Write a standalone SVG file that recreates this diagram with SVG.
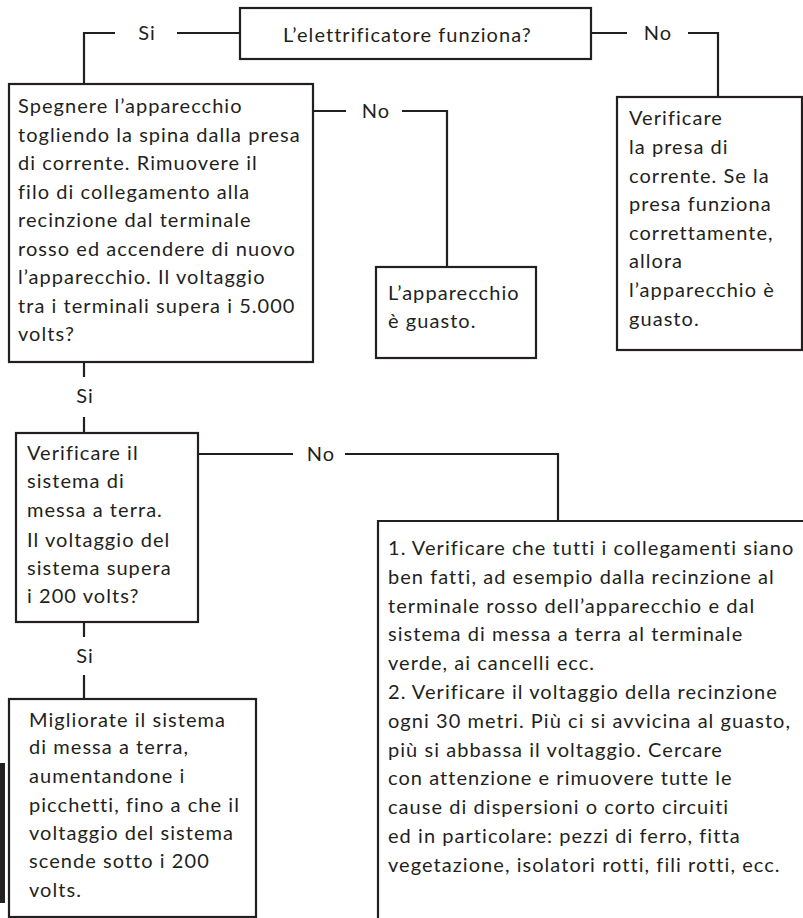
<svg xmlns="http://www.w3.org/2000/svg" width="803" height="918" viewBox="0 0 803 918">
<style>
.box{fill:#fff;stroke:#231f20;stroke-width:2.2}
.ln{fill:none;stroke:#231f20;stroke-width:2.2}
text{font-family:Lato,"Open Sans",sans-serif;font-size:20px;letter-spacing:1.05px;fill:#231f20}
.c{text-anchor:middle}
</style>
<rect width="803" height="918" fill="#fff"/>
<rect x="0" y="763" width="5" height="140" fill="#231f20"/>
<g id="connectors">
<path class="ln" d="M115,33H84V84"/>
<path class="ln" d="M177,33H240"/>
<path class="ln" d="M591,33H627"/>
<path class="ln" d="M688,33H718V97"/>
<path class="ln" d="M313,111H346"/>
<path class="ln" d="M402,111H447V267"/>
<path class="ln" d="M84,362V377"/>
<path class="ln" d="M84,417V433"/>
<path class="ln" d="M198,454H293"/>
<path class="ln" d="M345,454H558V521"/>
<path class="ln" d="M84,622V637"/>
<path class="ln" d="M84,675V699"/>
<text class="c" x="147" y="40">Si</text>
<text class="c" x="658" y="40">No</text>
<text class="c" x="376" y="118">No</text>
<text class="c" x="85" y="403">Si</text>
<text class="c" x="321" y="461">No</text>
<text class="c" x="85" y="663">Si</text>
</g>
<g id="n1">
<rect class="box" x="240" y="8" width="351" height="51"/>
<text x="283" y="42">L’elettrificatore funziona?</text>
</g>
<g id="n2">
<rect class="box" x="9" y="84" width="304" height="278"/>
<text x="18" y="113">Spegnere l’apparecchio</text>
<text x="18" y="141.5">togliendo la spina dalla presa</text>
<text x="18" y="170">di corrente. Rimuovere il</text>
<text x="18" y="198.5">filo di collegamento alla</text>
<text x="18" y="227">recinzione dal terminale</text>
<text x="18" y="255.5">rosso ed accendere di nuovo</text>
<text x="18" y="284">l’apparecchio. Il voltaggio</text>
<text x="18" y="312.5">tra i terminali supera i 5.000</text>
<text x="18" y="341">volts?</text>
</g>
<g id="n3">
<rect class="box" x="617" y="97" width="185" height="253"/>
<text x="629" y="125">Verificare</text>
<text x="629" y="154">la presa di</text>
<text x="629" y="183">corrente. Se la</text>
<text x="629" y="211">presa funziona</text>
<text x="629" y="240">correttamente,</text>
<text x="629" y="268">allora</text>
<text x="629" y="297">l’apparecchio è</text>
<text x="629" y="326">guasto.</text>
</g>
<g id="n4">
<rect class="box" x="376" y="267" width="160" height="91"/>
<text x="388" y="300">L’apparecchio</text>
<text x="388" y="328">è guasto.</text>
</g>
<g id="n5">
<rect class="box" x="16" y="433" width="182" height="189"/>
<text x="27" y="460">Verificare il</text>
<text x="27" y="488">sistema di</text>
<text x="27" y="517">messa a terra.</text>
<text x="27" y="547">Il voltaggio del</text>
<text x="27" y="575">sistema supera</text>
<text x="27" y="603">i 200 volts?</text>
</g>
<g id="n6">
<path class="ln" d="M378,918V521H803"/>
<text x="388" y="555">1. Verificare che tutti i collegamenti siano</text>
<text x="388" y="583.8">ben fatti, ad esempio dalla recinzione al</text>
<text x="388" y="612.6">terminale rosso dell’apparecchio e dal</text>
<text x="388" y="641.4">sistema di messa a terra al terminale</text>
<text x="388" y="670.2">verde, ai cancelli ecc.</text>
<text x="388" y="699">2. Verificare il voltaggio della recinzione</text>
<text x="388" y="727.8">ogni 30 metri. Più ci si avvicina al guasto,</text>
<text x="388" y="756.6">più si abbassa il voltaggio. Cercare</text>
<text x="388" y="785.4">con attenzione e rimuovere tutte le</text>
<text x="388" y="814.2">cause di dispersioni o corto circuiti</text>
<text x="388" y="843">ed in particolare: pezzi di ferro, fitta</text>
<text x="388" y="871.8">vegetazione, isolatori rotti, fili rotti, ecc.</text>
</g>
<g id="n7">
<rect class="box" x="9" y="699" width="247" height="218"/>
<text x="29" y="727">Migliorate il sistema</text>
<text x="29" y="754">di messa a terra,</text>
<text x="29" y="783">aumentandone i</text>
<text x="29" y="812">picchetti, fino a che il</text>
<text x="29" y="840">voltaggio del sistema</text>
<text x="29" y="868">scende sotto i 200</text>
<text x="29" y="897">volts.</text>
</g>
</svg>
